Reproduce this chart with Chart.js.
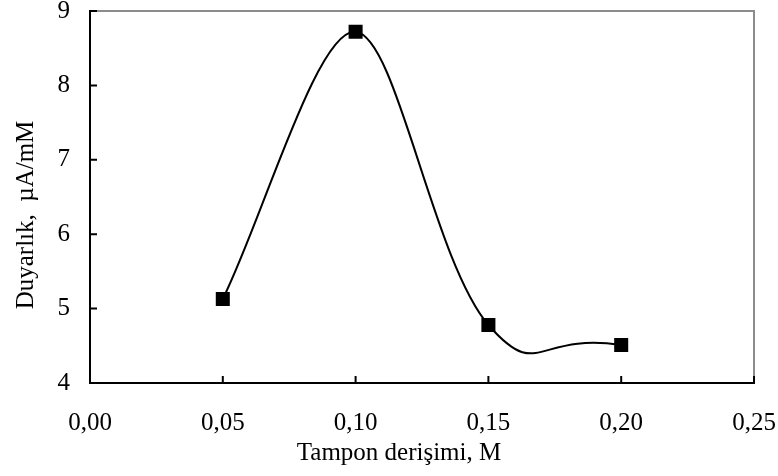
<!DOCTYPE html>
<html>
<head>
<meta charset="utf-8">
<script src="https://cdn.jsdelivr.net/npm/chart.js@4"></script>
<style>
  html, body { margin: 0; padding: 0; background: #fff; }
  #wrap { width: 778px; height: 476px; }
</style>
</head>
<body>
<div id="wrap"><canvas id="chart"></canvas></div>
<script>
// buffer concentration (M) and sensitivity (uA/mM)
const concentrations = [0.05, 0.10, 0.15, 0.20];
const sensitivity = [5.13, 8.72, 4.78, 4.51];

const xTitle = "Tampon derişimi, M";
const yTitle = "Duyarlık,  µA/mM";

const serif = "'Liberation Serif', 'Times New Roman', serif";
const points = concentrations.map((c, i) => ({x: c, y: sensitivity[i]}));
const lastSeg = concentrations.length - 2;

// inward tick marks, gray top/right frame and the axis titles
const frame = {
    id: "frame",
    afterDraw(chart) {
        const ctx = chart.ctx;
        const a = chart.chartArea;
        const xs = chart.scales.x, ys = chart.scales.y;
        ctx.save();
        ctx.strokeStyle = "#8c8c8c";
        ctx.lineWidth = 2;
        ctx.beginPath();
        ctx.moveTo(a.left, a.top);
        ctx.lineTo(a.right, a.top);
        ctx.lineTo(a.right, a.bottom);
        ctx.stroke();

        ctx.strokeStyle = "#000";
        ctx.lineWidth = 2;
        ctx.beginPath();
        xs.ticks.forEach((t, i) => {
            const px = xs.getPixelForTick(i);
            ctx.moveTo(px, a.bottom);
            ctx.lineTo(px, a.bottom - 7);
        });
        ys.ticks.forEach((t, i) => {
            const py = ys.getPixelForTick(i);
            ctx.moveTo(a.left, py);
            ctx.lineTo(a.left + 7, py);
        });
        ctx.stroke();

        ctx.fillStyle = "#000";
        ctx.font = "25px " + serif;
        ctx.textAlign = "center";
        ctx.textBaseline = "middle";
        ctx.fillText(xTitle, 399, 453);
        ctx.translate(26, 215);
        ctx.rotate(-Math.PI / 2);
        ctx.fillText(yTitle, 0, 0);
        ctx.restore();
    }
};

new Chart(document.getElementById("chart"), {
    type: "line",
    data: {
        datasets: [{
            // markers + smooth curve over the big segments
            data: points,
            borderColor: "#000",
            borderWidth: 2,
            backgroundColor: "#000",
            pointStyle: "rect",
            pointRadius: 8.5,
            pointHoverRadius: 8.5,
            tension: 0.3,
            fill: false,
            segment: {
                borderColor: c => c.p0DataIndex === lastSeg ? "transparent" : "#000"
            }
        }, {
            // last segment is smoothed harder (it dips below the last point)
            data: points,
            borderColor: "#000",
            borderWidth: 2,
            pointRadius: 0,
            tension: 0.65,
            fill: false,
            segment: {
                borderColor: c => c.p0DataIndex === lastSeg ? "#000" : "transparent"
            }
        }]
    },
    options: {
        responsive: true,
        maintainAspectRatio: false,
        animation: false,
        layout: { padding: { top: 11, right: 24, left: 0, bottom: 0 } },
        plugins: { legend: { display: false }, tooltip: { enabled: false } },
        scales: {
            x: {
                type: "linear",
                min: 0, max: 0.25,
                afterFit(scale) {
                    scale.height = 93;
                    scale.paddingLeft = 0;
                    scale.paddingRight = 0;
                },
                grid: { display: false, drawTicks: false },
                border: { display: true, color: "#000", width: 2 },
                ticks: {
                    stepSize: 0.05,
                    padding: 25,
                    color: "#000",
                    font: { family: serif, size: 25 },
                    callback: v => v.toFixed(2).replace(".", ",")
                }
            },
            y: {
                min: 4, max: 9,
                afterFit(scale) {
                    scale.width = 90;
                    scale.paddingTop = 0;
                    scale.paddingBottom = 0;
                },
                grid: { display: false, drawTicks: false },
                border: { display: true, color: "#000", width: 2 },
                ticks: {
                    stepSize: 1,
                    padding: 20,
                    color: "#000",
                    font: { family: serif, size: 25 }
                }
            }
        }
    },
    plugins: [frame]
});
</script>
</body>
</html>
